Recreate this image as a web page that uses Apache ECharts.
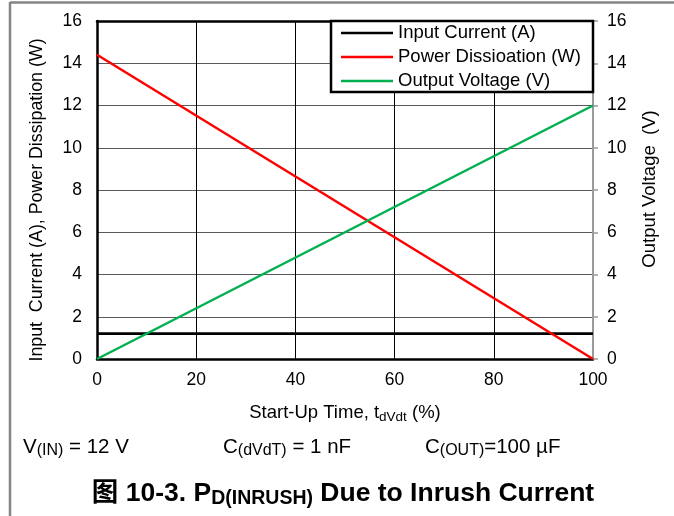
<!DOCTYPE html>
<html>
<head>
<meta charset="utf-8">
<script src="https://cdn.jsdelivr.net/npm/echarts@6/dist/echarts.min.js"></script>
<style>
  html, body { margin: 0; padding: 0; background: #fff; }
  #chart { width: 674px; height: 516px; }
</style>
</head>
<body>
<div id="chart"></div>
<script>
// Start-up time (%) and the three traces
const startUpTime   = [0, 100];
const inputCurrent  = [1.2, 1.2];   // A
const powerDiss     = [14.4, 0];    // W
const outputVoltage = [0, 12];      // V

const xTicks = [0, 20, 40, 60, 80, 100];
const seriesNames = ['Input Current (A)', 'Power Dissioation (W)', 'Output Voltage (V)'];

const FONT = "'Liberation Sans', Arial, 'Noto Sans CJK SC', sans-serif";

function pairs(xs, ys) { return xs.map((x, i) => [x, ys[i]]); }

const chart = echarts.init(document.getElementById('chart'), null, { renderer: 'canvas' });

const richAxis = {
  n: { fontSize: 18.5, lineHeight: 20, verticalAlign: 'top', fontFamily: FONT, color: '#000' },
  s: { fontSize: 13.5, lineHeight: 20, verticalAlign: 'bottom', padding: [6, 0, 0, 0], fontFamily: FONT, color: '#000' }
};
const richCond = {
  n: { fontSize: 20.5, lineHeight: 22, verticalAlign: 'top', fontFamily: FONT, color: '#000' },
  s: { fontSize: 16, lineHeight: 22, verticalAlign: 'bottom', padding: [6, 0, 0, 0], fontFamily: FONT, color: '#000' }
};
const richTitle = {
  t: { fontSize: 26.5, fontWeight: 'bold', lineHeight: 28, verticalAlign: 'top', fontFamily: FONT, color: '#000' },
  s: { fontSize: 19.5, fontWeight: 'bold', lineHeight: 28, verticalAlign: 'bottom', padding: [8, 0, 0, 0], fontFamily: FONT, color: '#000' }
};

chart.setOption({
  animation: false,
  backgroundColor: '#fff',
  textStyle: { fontFamily: FONT },
  grid: { left: 97, right: 81, top: 21, bottom: 157, containLabel: false },
  legend: {
    data: seriesNames,
    orient: 'vertical',
    left: 331,
    top: 21,
    padding: [2, 10, 1, 10],
    icon: 'rect',
    itemWidth: 52,
    itemHeight: 2.5,
    itemGap: 4,
    z: 6,
    textStyle: { fontSize: 18.5, lineHeight: 20, color: '#000', fontFamily: FONT }
  },
  xAxis: [
    {
      type: 'value', min: 0, max: 100, interval: 20,
      axisLine: { show: true, onZero: false, lineStyle: { color: '#000', width: 2.5 } },
      axisTick: { show: false },
      axisLabel: { fontSize: 17.5, color: '#000', margin: 12, fontFamily: FONT,
                   formatter: v => xTicks.includes(v) ? String(v) : '' },
      splitLine: { show: true, lineStyle: { color: '#000', width: 1 } }
    },
    {
      type: 'value', position: 'top', min: 0, max: 100, interval: 20,
      axisLine: { show: true, onZero: false, lineStyle: { color: '#000', width: 2.5 } },
      axisTick: { show: false }, axisLabel: { show: false }, splitLine: { show: false }
    }
  ],
  yAxis: [
    {
      type: 'value', min: 0, max: 16, interval: 2, position: 'left',
      axisLine: { show: true, onZero: false, lineStyle: { color: '#000', width: 2.5 } },
      axisTick: { show: false },
      axisLabel: { fontSize: 17.5, color: '#000', margin: 15, fontFamily: FONT },
      splitLine: { show: true, lineStyle: { color: '#5a5a5a', width: 1 } }
    },
    {
      type: 'value', min: 0, max: 16, interval: 2, position: 'right',
      axisLine: { show: true, onZero: false, lineStyle: { color: '#9a9a9a', width: 2 } },
      axisTick: { show: true, inside: false, length: 5, lineStyle: { color: '#9a9a9a', width: 1.5 } },
      axisLabel: { fontSize: 17.5, color: '#000', margin: 14, fontFamily: FONT },
      splitLine: { show: false }
    }
  ],
  series: [
    {
      name: seriesNames[0], type: 'line', xAxisIndex: 0, yAxisIndex: 0,
      data: pairs(startUpTime, inputCurrent), symbol: 'none',
      lineStyle: { color: '#000', width: 2.8 }, itemStyle: { color: '#000' }, z: 3
    },
    {
      name: seriesNames[1], type: 'line', xAxisIndex: 0, yAxisIndex: 0,
      data: pairs(startUpTime, powerDiss), symbol: 'none',
      lineStyle: { color: '#ff0000', width: 2.5 }, itemStyle: { color: '#ff0000' }, z: 3
    },
    {
      name: seriesNames[2], type: 'line', xAxisIndex: 0, yAxisIndex: 1,
      data: pairs(startUpTime, outputVoltage), symbol: 'none',
      lineStyle: { color: '#00b050', width: 2.5 }, itemStyle: { color: '#00b050' }, z: 3
    }
  ],
  graphic: [
    // outer frame lines (top and left)
    { type: 'line', shape: { x1: 10, y1: 2.5, x2: 674, y2: 2.5 }, style: { stroke: '#858585', lineWidth: 2.5 }, z: 1 },
    { type: 'line', shape: { x1: 10, y1: 2, x2: 10, y2: 516 }, style: { stroke: '#858585', lineWidth: 2.5 }, z: 1 },
    // legend box
    { type: 'rect', shape: { x: 331, y: 21, width: 262, height: 71 },
      style: { fill: '#fff', stroke: '#000', lineWidth: 2.5 }, z: 5 },
    // axis titles
    { type: 'text', x: 37, y: 200, rotation: Math.PI / 2, z: 5,
      style: { text: 'Input  Current (A), Power Dissipation (W)', font: '17.8px ' + FONT,
               fill: '#000', align: 'center', verticalAlign: 'middle' } },
    { type: 'text', x: 650, y: 189, rotation: Math.PI / 2, z: 5,
      style: { text: 'Output Voltage  (V)', font: '18.5px ' + FONT,
               fill: '#000', align: 'center', verticalAlign: 'middle' } },
    { type: 'text', x: 345, y: 414, z: 5,
      style: { text: '{n|Start-Up Time, t}{s|dVdt}{n| (%)}', rich: richAxis,
               align: 'center', verticalAlign: 'middle' } },
    // conditions row
    { type: 'text', x: 23, y: 448, z: 5,
      style: { text: '{n|V}{s|(IN)}{n| = 12 V}', rich: richCond, align: 'left', verticalAlign: 'middle' } },
    { type: 'text', x: 223, y: 448, z: 5,
      style: { text: '{n|C}{s|(dVdT)}{n| = 1 nF}', rich: richCond, align: 'left', verticalAlign: 'middle' } },
    { type: 'text', x: 425, y: 448, z: 5,
      style: { text: '{n|C}{s|(OUT)}{n|=100 µF}', rich: richCond, align: 'left', verticalAlign: 'middle' } },
    // figure caption
    { type: 'text', x: 343, y: 494, z: 5,
      style: { text: '{t|图 10-3. P}{s|D(INRUSH)}{t| Due to Inrush Current}', rich: richTitle,
               align: 'center', verticalAlign: 'middle' } }
  ]
});
</script>
</body>
</html>
